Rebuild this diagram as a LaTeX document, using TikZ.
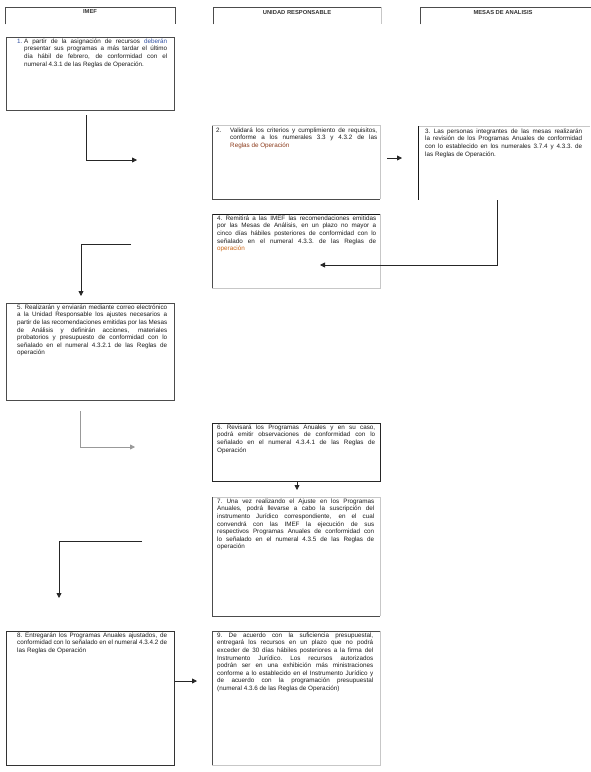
\documentclass[tikz,border=0pt]{standalone}
\usepackage{fontspec}
\setmainfont{Liberation Sans}
\usetikzlibrary{arrows.meta}
\newcommand\JL[1]{\hbox to\hsize{\spaceskip=0.278em plus 2em minus 0.08em\xspaceskip=\spaceskip #1}}
\definecolor{tx}{HTML}{1A1A1A}
\definecolor{bl}{HTML}{2F4FA0}
\definecolor{br}{HTML}{8B3A1A}
\definecolor{orn}{HTML}{C86414}
\begin{document}
\begin{tikzpicture}[x=1pt,y=-1pt,
 txt/.style={inner sep=0pt, anchor=north west, align=justify, font=\fontsize{6.3}{7.6}\selectfont, text=tx},
 frame/.style={draw=none, inner sep=0pt, anchor=north west},
 box/.style={draw=black!70, line width=0.7pt, inner sep=0pt, anchor=north west},
 edge/.style={line width=0.7pt, draw=black!70},
 ledge/.style={line width=0.6pt, draw=black!22},
 dedge/.style={line width=1pt, draw=black!90},
 conn/.style={line width=0.8pt, draw=black!85, -{Triangle[length=5pt,width=5pt]}},
 lconn/.style={conn, draw=black!40},
 hdr/.style={font=\fontsize{5.8}{7}\selectfont\bfseries, text=black!80, inner sep=0pt}]
\useasboundingbox (0,0) rectangle (590,772);

% headers
\node[frame, minimum width=170pt, minimum height=17pt] (h1f) at (5,7) {};
\node[frame, minimum width=168pt, minimum height=17pt] (h2f) at (213,7) {};
\node[frame, minimum width=172pt, minimum height=17pt] (h3f) at (420,7) {};
\draw[edge] (h1f.south west) -- (h1f.north west) -- (h1f.north east) -- (h1f.south east);
\draw[edge] (h2f.south west) -- (h2f.north west) -- (h2f.north east);
\draw[ledge] (h2f.north east) -- (h2f.south east);
\draw[edge] (h3f.south west) -- (h3f.north west) -- (h3f.north east);
\node[hdr] (h1) at (90,12) {IMEF};
\node[hdr] (h2) at (297,12) {UNIDAD RESPONSABLE};
\node[hdr] (h3) at (503,12) {MESAS DE ANALISIS};

% box 1
\node[box, minimum width=168pt, minimum height=73pt] (b1) at (6,37) {};
\node[txt, text width=143pt] (t1) at (24,38.5) {%
\JL{\llap{\makebox[7pt][l]{\color{bl}1.}}A partir de la asignación de recursos {\color{bl}deberán}}
\JL{presentar sus programas a más tardar el último}
\JL{día hábil de febrero, de conformidad con el}
\JL{numeral 4.3.1 de las Reglas de Operación.\hfill}};

% box 2
\node[frame, minimum width=168pt, minimum height=74pt] (b2) at (212,125) {};
\draw[edge] (b2.north west) -- (b2.south west);
\draw[ledge] (b2.north west) -- (b2.north east) -- (b2.south east);
\draw[edge] (b2.south west) -- (b2.south east);
\node[txt, text width=147pt] (t2) at (230,127.5) {%
\JL{\llap{\makebox[14pt][l]{2.}}Validará los criterios y cumplimiento de requisitos,}
\JL{conforme a los numerales 3.3 y 4.3.2 de las}
\JL{{\color{br}Reglas de Operación}\hfill}};

% box 3
\node[frame, minimum width=172pt, minimum height=74pt] (b3) at (418,126) {};
\draw[ledge] (b3.north west) -- (b3.north east);
\draw[dedge] (b3.north west) -- (b3.south west);
\node[txt, text width=157pt] (t3) at (425,128.5) {%
\JL{3. Las personas integrantes de las mesas realizarán}
\JL{la revisión de los Programas Anuales de conformidad}
\JL{con lo establecido en los numerales 3.7.4 y 4.3.3. de}
\JL{las Reglas de Operación.\hfill}};

% box 4
\node[frame, minimum width=168pt, minimum height=74pt] (b4) at (212,214) {};
\draw[dedge] (b4.north west) -- (b4.north east);
\draw[edge] (b4.north west) -- (b4.south west);
\draw[ledge] (b4.north east) -- (b4.south east) -- (b4.south west);
\node[txt, text width=159pt] (t4) at (217,215.5) {%
\JL{4. Remitirá a las IMEF las recomendaciones emitidas}
\JL{por las Mesas de Análisis, en un plazo no mayor a}
\JL{cinco días hábiles posteriores de conformidad con lo}
\JL{señalado en el numeral 4.3.3. de las Reglas de}
\JL{{\color{orn}operación}\hfill}};

% box 5
\node[box, minimum width=168pt, minimum height=97pt] (b5) at (6,303) {};
\node[txt, text width=150pt] (t5) at (17,304.5) {%
\JL{5. Realizarán y enviarán mediante correo electrónico}
\JL{a la Unidad Responsable los ajustes necesarios a}
\JL{partir de las recomendaciones emitidas por las Mesas}
\JL{de Análisis y definirán acciones, materiales}
\JL{probatorios y presupuesto de conformidad con lo}
\JL{señalado en el numeral 4.3.2.1 de las Reglas de}
\JL{operación\hfill}};

% box 6
\node[box, draw=black!85, minimum width=168pt, minimum height=58pt] (b6) at (212,423) {};
\node[txt, text width=158pt] (t6) at (217,424.5) {%
\JL{6. Revisará los Programas Anuales y en su caso,}
\JL{podrá emitir observaciones de conformidad con lo}
\JL{señalado en el numeral 4.3.4.1 de las Reglas de}
\JL{Operación\hfill}};

% box 7
\node[frame, minimum width=168pt, minimum height=119pt] (b7) at (212,497) {};
\draw[ledge] (b7.north west) -- (b7.north east) -- (b7.south east);
\draw[edge] (b7.north west) -- (b7.south west) -- (b7.south east);
\node[txt, text width=157pt] (t7) at (217,498.5) {%
\JL{7. Una vez realizando el Ajuste en los Programas}
\JL{Anuales, podrá llevarse a cabo la suscripción del}
\JL{instrumento Jurídico correspondiente, en el cual}
\JL{convendrá con las IMEF la ejecución de sus}
\JL{respectivos Programas Anuales de conformidad con}
\JL{lo señalado en el numeral 4.3.5 de las Reglas de}
\JL{operación\hfill}};

% box 8
\node[box, draw=black!80, minimum width=168pt, minimum height=134pt] (b8) at (6,631) {};
\node[txt, text width=150pt] (t8) at (17,632.5) {%
\JL{8. Entregarán los Programas Anuales ajustados, de}
\JL{conformidad con lo señalado en el numeral 4.3.4.2 de}
\JL{las Reglas de Operación\hfill}};

% box 9
\node[frame, minimum width=168pt, minimum height=134pt] (b9) at (212,631) {};
\draw[edge] (b9.south west) -- (b9.north west) -- (b9.north east);
\draw[ledge] (b9.north east) -- (b9.south east) -- (b9.south west);
\node[txt, text width=156pt] (t9) at (217,632.5) {%
\JL{9. De acuerdo con la suficiencia presupuestal,}
\JL{entregará los recursos en un plazo que no podrá}
\JL{exceder de 30 días hábiles posteriores a la firma del}
\JL{Instrumento Jurídico. Los recursos autorizados}
\JL{podrán ser en una exhibición más ministraciones}
\JL{conforme a lo establecido en el Instrumento Jurídico y}
\JL{de acuerdo con la programación presupuestal}
\JL{(numeral 4.3.6 de las Reglas de Operación)\hfill}};

% connectors
\coordinate (c1s) at (86,115); \coordinate (c1e) at (137,160);
\draw[conn] (c1s) |- (c1e);
\coordinate (c2s) at (387,158); \coordinate (c2e) at (402,158);
\draw[conn] (c2s) -- (c2e);
\coordinate (c3s) at (497,200); \coordinate (c3e) at (320,265);
\draw[conn] (c3s) |- (c3e);
\coordinate (c4s) at (131,244); \coordinate (c4e) at (81,296);
\draw[conn] (c4s) -| (c4e);
\coordinate (c5s) at (80,411); \coordinate (c5e) at (135,447);
\draw[lconn] (c5s) |- (c5e);
\coordinate (c6e) at (297,490);
\draw[conn] (b6.south -| c6e) -- (c6e);
\coordinate (c7s) at (142,541); \coordinate (c7e) at (59,598);
\draw[conn] (c7s) -| (c7e);
\coordinate (c8e) at (197,681);
\draw[conn] (b8.east |- c8e) -- (c8e);
\end{tikzpicture}
\end{document}
